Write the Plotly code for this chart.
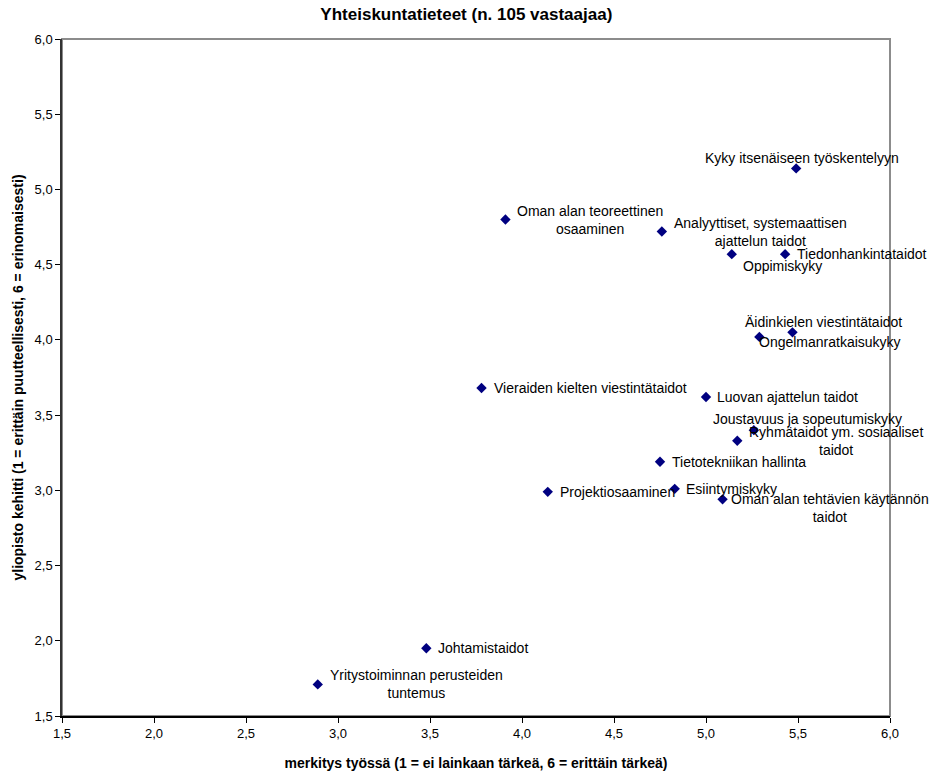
import plotly.graph_objects as go

# Data
labels = [
    "Kyky itsenäiseen työskentelyyn",
    "Oman alan teoreettinen<br>osaaminen",
    "Analyyttiset, systemaattisen<br>ajattelun taidot",
    "Oppimiskyky",
    "Tiedonhankintataidot",
    "Äidinkielen viestintätaidot",
    "Ongelmanratkaisukyky",
    "Luovan ajattelun taidot",
    "Joustavuus ja sopeutumiskyky",
    "Ryhmätaidot ym. sosiaaliset<br>taidot",
    "Tietotekniikan hallinta",
    "Esiintymiskyky",
    "Oman alan tehtävien käytännön<br>taidot",
    "Projektiosaaminen",
    "Vieraiden kielten viestintätaidot",
    "Johtamistaidot",
    "Yritystoiminnan perusteiden<br>tuntemus",
]
importance = [5.49, 3.91, 4.76, 5.14, 5.43, 5.47, 5.29, 5.00, 5.26, 5.17,
              4.75, 4.83, 5.09, 4.14, 3.78, 3.48, 2.89]
development = [5.14, 4.80, 4.72, 4.57, 4.57, 4.05, 4.02, 3.62, 3.40, 3.33,
               3.19, 3.01, 2.94, 2.99, 3.68, 1.95, 1.71]

title_text = "Yhteiskuntatieteet (n. 105 vastaajaa)"
x_title = "merkitys työssä (1 = ei lainkaan tärkeä, 6 = erittäin tärkeä)"
y_title = "yliopisto kehitti (1 = erittäin puutteellisesti, 6 = erinomaisesti)"

# label placement styles: (xanchor, dx px, dy px; dy positive = down)
label_pos = [
    ("center", 6, -10),
    ("left", 10, 0),
    ("left", 10, 0),
    ("left", 9, 12),
    ("left", 10, 0),
    ("center", 31, -10),
    ("left", -2, 5),
    ("left", 9, 0),
    ("center", 54, -11),
    ("left", 10, 0),
    ("left", 10, 0),
    ("left", 9, 0),
    ("left", 6, 9),
    ("left", 10, 0),
    ("left", 10, 0),
    ("left", 10, 0),
    ("left", 10, 0),
]

FONT = "Liberation Sans, Arial, sans-serif"

fig = go.Figure()
fig.add_trace(go.Scatter(
    x=importance, y=development, mode="markers",
    marker=dict(symbol="diamond", size=8, color="#000080"),
    hoverinfo="skip", showlegend=False,
))

annotations = []
for lab, xv, yv, (anc, dx, dy) in zip(labels, importance, development, label_pos):
    annotations.append(dict(
        x=xv, y=yv, xref="x", yref="y", text=lab, showarrow=False,
        xanchor=anc, yanchor="middle", xshift=dx, yshift=-dy,
        align="center", font=dict(family=FONT, size=14, color="black"),
    ))

tickvals = [1.5, 2.0, 2.5, 3.0, 3.5, 4.0, 4.5, 5.0, 5.5, 6.0]

fig.update_layout(
    width=929, height=781,
    margin=dict(l=62, r=39, t=39, b=60),
    paper_bgcolor="white", plot_bgcolor="white",
    separators=", ",
    font=dict(family=FONT, size=12, color="black"),
    title=dict(text="<b>" + title_text + "</b>", x=0.502, xanchor="center",
               y=1 - 14 / 781, yanchor="middle",
               font=dict(family=FONT, size=17, color="black")),
    annotations=annotations,
    shapes=[dict(type="rect", xref="paper", yref="paper", x0=0, y0=0, x1=1, y1=1,
                 line=dict(color="#8c8c8c", width=2), layer="below")],
)
fig.update_xaxes(
    range=[1.5, 6.0], tickvals=tickvals, tickformat=".1f",
    showgrid=False, zeroline=False, showline=True, linecolor="black", linewidth=1.5,
    ticks="outside", ticklen=5, tickcolor="black",
    tickfont=dict(family=FONT, size=13, color="black"),
    title=dict(text="<b>" + x_title + "</b>", standoff=18,
               font=dict(family=FONT, size=14, color="black")),
)
fig.update_yaxes(
    range=[1.5, 6.0], tickvals=tickvals, tickformat=".1f",
    showgrid=False, zeroline=False, showline=True, linecolor="#333333", linewidth=1.5,
    ticks="outside", ticklen=5, tickcolor="black",
    tickfont=dict(family=FONT, size=13, color="black"),
    title=dict(text="<b>" + y_title + "</b>", standoff=8,
               font=dict(family=FONT, size=14, color="black")),
)

fig.write_html("out.html")
